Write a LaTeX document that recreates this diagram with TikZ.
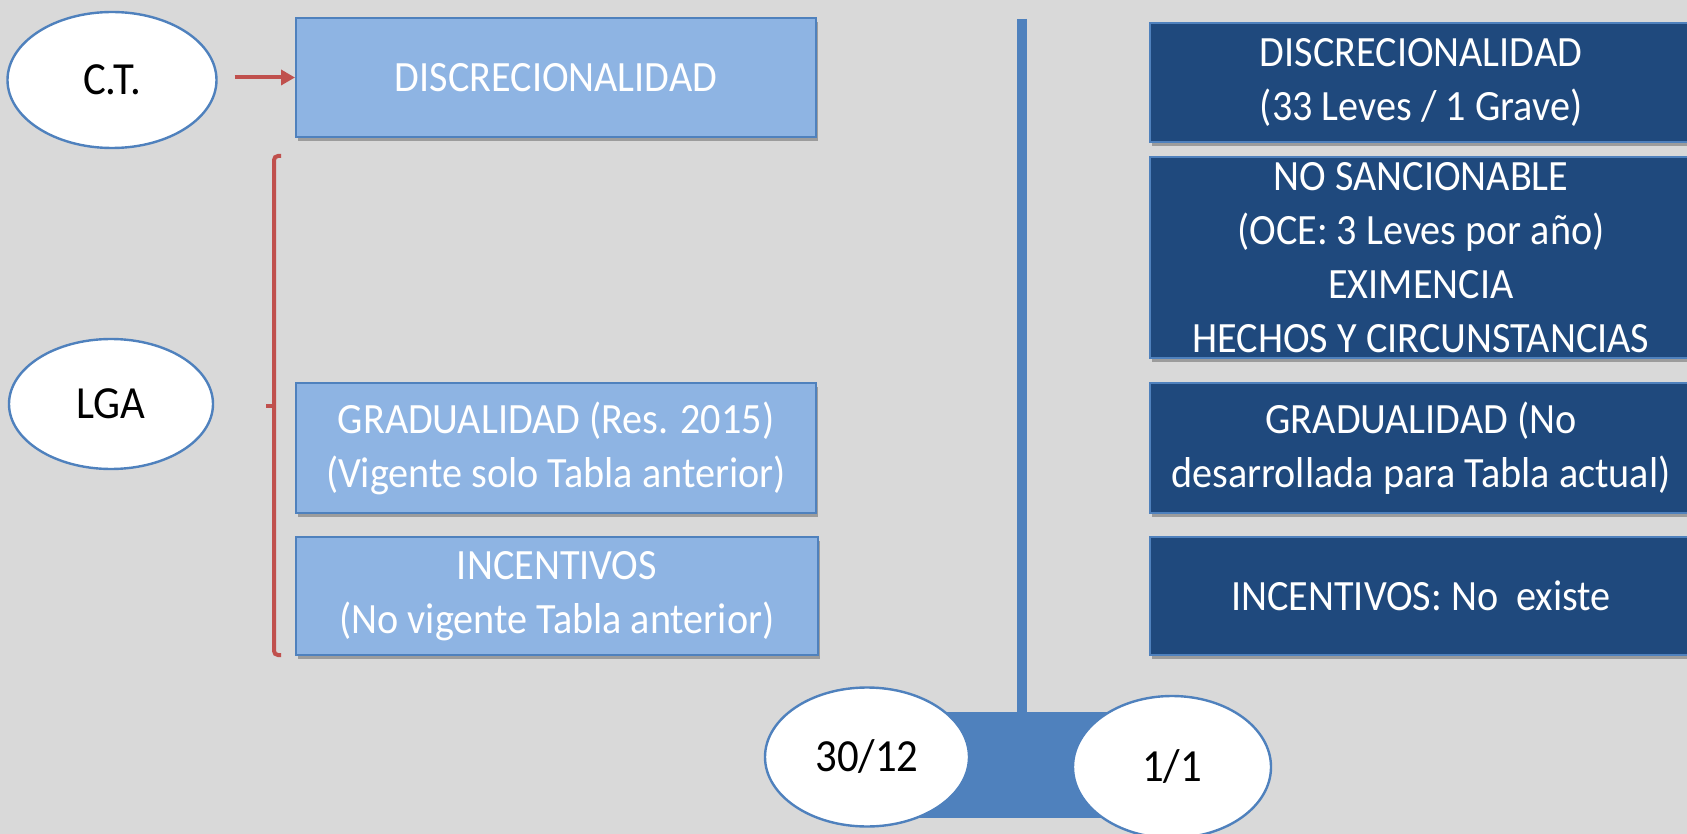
\documentclass[tikz,border=0pt]{standalone}
\usepackage{fontspec}
\setmainfont{Carlito}[FakeStretch=0.93]
\usetikzlibrary{shadows,arrows.meta,shapes.geometric}
\definecolor{bg}{HTML}{D9D9D9}
\definecolor{lightfill}{HTML}{8EB4E3}
\definecolor{edgeblue}{HTML}{4F81BD}
\definecolor{darkfill}{HTML}{1F497D}
\definecolor{redline}{HTML}{C0504D}
\begin{document}
\begin{tikzpicture}[x=0.5pt,y=-0.5pt,
  boxtext/.style={font=\fontsize{21.6}{27}\selectfont, text=white, align=center, inner sep=0pt},
  boxshadow/.style={drop shadow={shadow xshift=0.8pt, shadow yshift=-1.8pt, opacity=0.28, fill=black}},
  lightbox/.style={boxtext, rectangle, fill=lightfill, draw=edgeblue, line width=1pt, boxshadow},
  darkbox/.style={boxtext, rectangle, fill=darkfill, draw=edgeblue, line width=1pt, boxshadow},
  oval/.style={ellipse, fill=white, draw=edgeblue, line width=1.2pt, inner sep=0pt, font=\fontsize{23}{27}\selectfont, text=black},
  redstroke/.style={draw=redline, line width=2pt},
]
\fill[bg] (0,0) rectangle (1687,834);
\useasboundingbox (0,0) rectangle (1687,834);

% timeline
\coordinate (vtop) at (1022,19);
\coordinate (vbot) at (1022,714);
\draw[edgeblue, line width=5pt] (vtop) -- (vbot);
\fill[edgeblue] (870,712) rectangle (1175,818);

% ellipses
\node[oval, minimum width=104.5pt, minimum height=68pt] (ct) at (112,80) {C.T.};
\node[oval, minimum width=102pt, minimum height=65pt] (lga) at (111,404) {LGA};
\node[oval, minimum width=102pt, minimum height=69.5pt] (d3012) at (867,757) {30/12};
\node[oval, minimum width=99pt, minimum height=71pt] (d11) at (1172,767) {1/1};

% light boxes
\node[lightbox, minimum width=260pt, minimum height=59.5pt] (lb1) at (556,77.5) {DISCRECIONALIDAD};
\node[lightbox, minimum width=260pt, minimum height=65pt] (lb2) at (556,448) {GRADUALIDAD (Res. 2015)\\(Vigente solo Tabla anterior)};
\node[lightbox, minimum width=261pt, minimum height=59pt] (lb3) at (557,596) {INCENTIVOS\\(No vigente Tabla anterior)};

% dark boxes
\node[darkbox, minimum width=271pt, minimum height=59.5pt] (db1) at (1421,82.5) {DISCRECIONALIDAD\\(33 Leves / 1 Grave)};
\node[darkbox, minimum width=271pt, minimum height=100.5pt] (db2) at (1421,257.5) {NO SANCIONABLE\\(OCE: 3 Leves por año)\\EXIMENCIA\\HECHOS Y CIRCUNSTANCIAS};
\node[darkbox, minimum width=271pt, minimum height=65pt] (db3) at (1421,448) {GRADUALIDAD (No\\desarrollada para Tabla actual)};
\node[darkbox, minimum width=271pt, minimum height=59pt] (db4) at (1421,596) {INCENTIVOS: No\ \ existe};

% arrow C.T. -> DISCRECIONALIDAD
\draw[redstroke, -{Triangle[length=7pt,width=7.5pt]}, shorten <=8.5pt] (ct.east |- lb1.west) -- (lb1.west);

% bracket
\coordinate (brtop) at (274,156);
\coordinate (brbot) at (274,655);
\coordinate (brmid) at (274,406);
\draw[redstroke, rounded corners=2pt] ([xshift=3.5pt]brtop) -- (brtop) -- (brbot) -- ([xshift=3.5pt]brbot);
\draw[redstroke] (brmid) -- ([xshift=-4pt]brmid);
\end{tikzpicture}
\end{document}
